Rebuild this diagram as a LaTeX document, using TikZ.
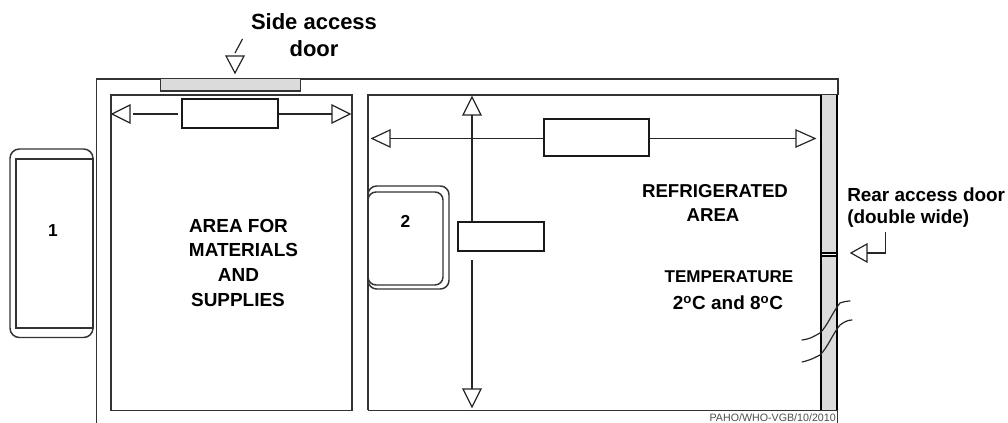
\documentclass[tikz,border=0pt]{standalone}
\usepackage{fontspec}
\setmainfont{Liberation Sans}
\tikzset{
  x=0.75pt,y=-0.75pt,
  wall/.style={draw=black!80,line width=1.1pt},
  door/.style={fill=black!14,draw=none},
  tri/.style={draw=black!85,fill=white,line width=0.9pt,line join=miter},
  conn/.style={draw=black!85,line width=0.9pt},
  bx/.style={draw=black!90,fill=white,line width=1.2pt,inner sep=0pt},
  lab/.style={inner sep=0pt,text=black},
}
\newcommand{\lbl}[4]{\node[lab,anchor=base,font=\fontsize{#1}{#1}\selectfont\bfseries] at (#2,#3) {#4};}
\begin{document}
\begin{tikzpicture}
\useasboundingbox (0,0) rectangle (1008,423);
% outer wall
\draw[wall] (96.5,423) -- (96.5,79) -- (838,79) -- (838,95);
% side door
\fill[door] (160.5,79) rectangle (300.5,91);
\draw[wall] (160.5,79) -- (160.5,91) -- (300.5,91) -- (300.5,79);
% room 1
\draw[wall] (111,410.5) -- (111,95) -- (352,95) -- (352,410.5) -- cycle;
% room 2
\draw[wall] (368,410.5) -- (368,95) -- (838,95);
\draw[wall] (368,410.5) -- (838,410.5);
% rear door
\fill[door] (821,95) rectangle (837,410);
\draw[draw=black,line width=2pt] (821,95) -- (821,410);
\draw[draw=black,line width=2pt] (837,95) -- (837,410);
\fill[white] (822,253.5) rectangle (836,255.5);
\draw[draw=black,line width=0.8pt] (821,253) -- (837,253);
\draw[draw=black,line width=0.8pt] (821,256) -- (837,256);
\draw[wall] (837.5,410.5) -- (837.5,423);
% unit 1
\draw[wall,rounded corners=7pt] (10,149) rectangle (93,337.5);
\draw[wall] (16,159) rectangle (93,328);
% unit 2
\draw[wall,rounded corners=6.5pt] (368,186) rectangle (449,289);
\draw[wall,rounded corners=6pt] (368,192) rectangle (443,285);
% boxes
\node[bx,anchor=north west,minimum width=72pt,minimum height=21.75pt] (b1) at (181,98) {};
\node[bx,anchor=north west,minimum width=78.75pt,minimum height=27.75pt] (b2) at (543,118) {};
\node[bx,anchor=north west,minimum width=64.5pt,minimum height=21.75pt] (b3) at (457,221) {};
% connector ends
\coordinate (a1l) at (133,114); \coordinate (a1r) at (332,114);
\coordinate (a2l) at (390,138.5); \coordinate (a2r) at (796,138.5);
\coordinate (a3t) at (472,115); \coordinate (a3b) at (472,389);
\coordinate (a3dn) at (472,260); \coordinate (b1l) at (178,114);
\draw[conn] (a1l) -- (b1l);
\draw[conn] (b1.east |- a1r) -- (a1r);
\draw[conn] (a2l) -- (b2.west |- a2l);
\draw[conn] (b2.east |- a2r) -- (a2r);
\draw[conn] (a3t) -- (a3t |- b3.north);
\draw[conn] (a3dn) -- (a3b);
% triangles
\draw[tri] (112,114) -- (130,105) -- (130,123) -- cycle;
\draw[tri] (350,114) -- (332,105) -- (332,123) -- cycle;
\draw[tri] (372,138.5) -- (390,130) -- (390,147) -- cycle;
\draw[tri] (815,138.5) -- (796,130) -- (796,147) -- cycle;
\draw[tri] (472,97) -- (463,115) -- (481,115) -- cycle;
\draw[tri] (472,407) -- (463,389) -- (481,389) -- cycle;
\draw[tri] (235,73) -- (226,56) -- (244,56) -- cycle;
\draw[conn] (235,53) -- (242.5,39);
% rear door arrow
\draw[tri] (851,253) -- (867,244) -- (867,262) -- cycle;
\draw[conn] (867,253) -- (885.5,253) -- (885.5,232);
% break lines
\draw[conn,line cap=round] (802,340) .. controls (811,339) and (816,335) .. (820,333) .. controls (828,325) and (832,313) .. (840,303) .. controls (843,302) and (847,301) .. (850,301);
\draw[conn,line cap=round] (802,362) .. controls (811,360) and (816,357) .. (820,355) .. controls (828,347) and (832,335) .. (840,325) .. controls (844,322) and (848,320) .. (852,320);
% text
\lbl{16.5}{314}{30}{Side access}
\lbl{16.5}{314}{57}{door}
\lbl{13}{53}{237}{1}
\lbl{13}{405.5}{228}{2}
\lbl{14.2}{238.5}{233}{AREA FOR}
\lbl{14.2}{243.5}{257}{MATERIALS}
\lbl{14.2}{238.5}{282}{AND}
\lbl{14.2}{238}{307}{SUPPLIES}
\lbl{14}{715}{198}{REFRIGERATED}
\lbl{14}{713}{222}{AREA}
\lbl{12.8}{729}{283}{TEMPERATURE}
\lbl{14.2}{728}{310}{2\textsuperscript{o}C and 8\textsuperscript{o}C}
\node[lab,anchor=base west,font=\fontsize{14.2}{14.2}\selectfont\bfseries] at (847,201.5) {Rear access door};
\node[lab,anchor=base west,font=\fontsize{14.2}{14.2}\selectfont\bfseries] at (847,224) {(double wide)};
\node[lab,anchor=base east,font=\fontsize{8}{8}\selectfont,text=black!70] at (836,421.5) {PAHO/WHO-VGB/10/2010};
\end{tikzpicture}
\end{document}
